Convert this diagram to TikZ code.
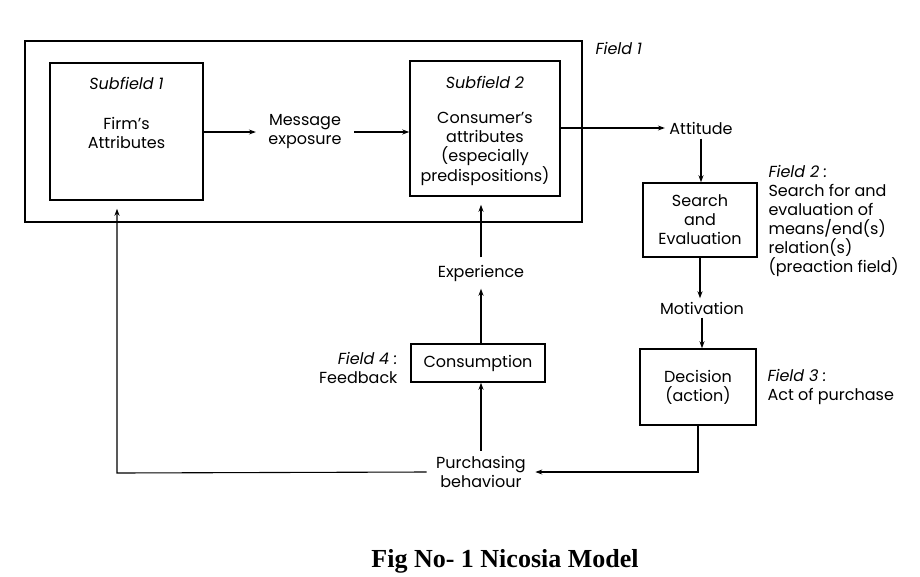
\documentclass[tikz,border=0pt]{standalone}
\usepackage{fontspec}
\setmainfont{Poppins}
\newfontfamily\capfont{Liberation Serif}
\usetikzlibrary{arrows.meta}

\begin{document}
\begin{tikzpicture}[x = 1pt, y = -1pt, line width = 1.1pt,
    box/.style = {draw, line width = 1.5pt, inner sep = 0pt, align = center, font = \fontsize{16}{19}\selectfont},
    txt/.style = {align = center, inner sep = 5pt, font = \fontsize{16}{19}\selectfont},
    note/.style = {inner sep = 0pt, font = \fontsize{16}{19}\selectfont},
    arr/.style = {-{Stealth[length = 7pt, width = 5pt]}}]
\useasboundingbox (0,0) rectangle (920,576);
\draw (303.5,131.5) node[box, minimum width = 557pt, minimum height = 181pt](f1){}
    (126.5,131.5) node[box, minimum width = 153pt, minimum height = 137pt](sf1){}
    (485,128.5) node[box, minimum width = 150pt, minimum height = 135pt](sf2){}
    (700,220) node[box, minimum width = 114pt, minimum height = 74pt](srch){Search\\and\\Evaluation}
    (698,387) node[box, minimum width = 116pt, minimum height = 76pt](dec){Decision\\(action)}
    (478,363) node[box, minimum width = 134pt, minimum height = 38pt](con){Consumption};
\draw (126.5,83) node[txt](sf1lbl){\itshape Subfield 1}
    (126.5,132.5) node[txt](firm){Firm's\\Attributes}
    (305,132) node[txt, inner xsep = 12pt](msg){Message\\exposure}
    (485,82) node[txt](sf2lbl){\itshape Subfield 2}
    (485,148.5) node[txt](cons){Consumer's\\attributes\\(especially\\predispositions)}
    (701,128) node[txt, inner sep = 4pt](att){Attitude}
    (702,308) node[txt, inner sep = 3pt](mot){Motivation}
    (481,472) node[txt, inner xsep = 9pt](pur){Purchasing\\behaviour}
    (481,273) node[txt, inner sep = 7pt](exp){Experience};
\draw (595,48) node[note, anchor = west](fl1){\itshape Field 1}
    (768,220.5) node[note, anchor = west, align = left](fl2){\itshape Field 2 :\\Search for and\\evaluation of\\means/end(s)\\relation(s)\\(preaction field)}
    (767,387) node[note, anchor = west, align = left](fl3){\itshape Field 3 :\\Act of purchase}
    (398,367.5) node[note, anchor = east, align = right](fl4){\itshape Field 4 :\\Feedback}
    (505,567) node[anchor = base, inner sep = 0pt, font = \capfont\bfseries\fontsize{26}{30}\selectfont](cap){Fig No- 1 Nicosia Model};
\draw [arr] (sf1.east |- msg.west) -- (msg.west);
\draw [arr] (msg.east) -- (msg.east -| sf2.west);
\draw [arr] (sf2.east |- att.west) -- (att.west);
\draw [arr] (att.south) -- (att.south |- srch.north);
\draw [arr] (srch.south) -- (srch.south |- mot.north);
\draw [arr] (mot.south) -- (mot.south |- dec.north);
\draw [arr] (dec.south) |- (pur.east);
\draw [arr] (pur.north) -- (pur.north |- con.south);
\draw [arr] (con.north -| exp) -- (exp.south);
\draw [arr, shorten >= 8pt] (exp.north) -- (exp.north |- sf2.south);
\coordinate (fb) at (117,473);
\draw [arr, shorten >= 8pt] (pur.west) -- (fb) -- (fb |- sf1.south);
\end{tikzpicture}
\end{document}
